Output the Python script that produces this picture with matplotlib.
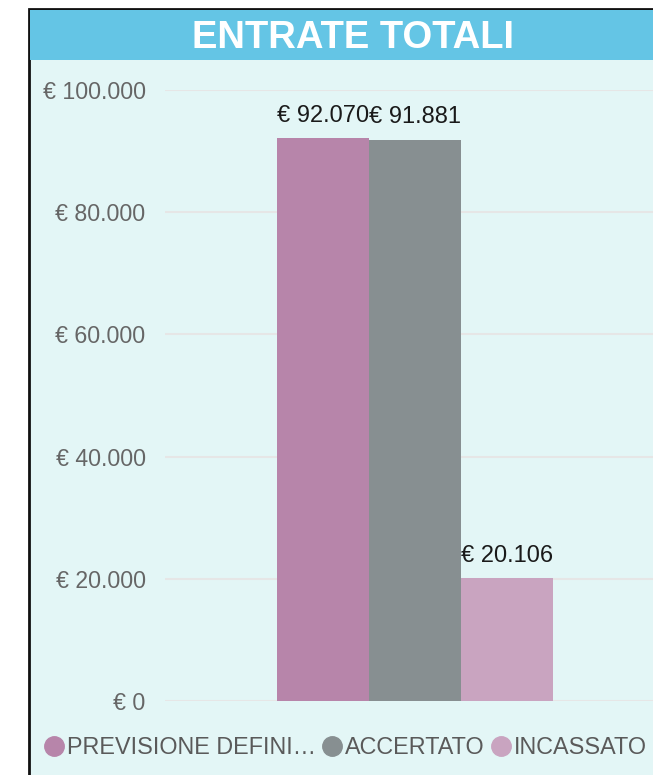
import matplotlib
matplotlib.use("Agg")
import matplotlib.pyplot as plt
from matplotlib.patches import Rectangle
from matplotlib.lines import Line2D
from matplotlib.ticker import FuncFormatter

plt.rcParams['font.family'] = ['Liberation Sans', 'DejaVu Sans']

title = "ENTRATE TOTALI"
series = ["PREVISIONE DEFINITIVA", "ACCERTATO", "INCASSATO"]
legend_labels = ["PREVISIONE DEFINI…", "ACCERTATO", "INCASSATO"]
values = [92070, 91881, 20106]
colors = ["#B785AA", "#878F91", "#C9A4C0"]
yticks = [0, 20000, 40000, 60000, 80000, 100000]

W, H = 653, 775
fig = plt.figure(figsize=(W / 100, H / 100), dpi=100)
fig.patch.set_facecolor("white")


def fx(px):
    return px / W


def fy(py):
    return 1 - py / H


# panel frame and title bar
fig.patches.append(Rectangle((fx(29), fy(790)), fx(700), fy(9) - fy(790),
                             transform=fig.transFigure, facecolor="#E3F6F6",
                             edgecolor="#111111", linewidth=2, zorder=-2))
fig.patches.append(Rectangle((fx(30), fy(60)), fx(700), fy(10) - fy(60),
                             transform=fig.transFigure, facecolor="#64C5E5",
                             edgecolor="none", zorder=-1))
fig.text(fx(353), fy(38), title, ha="center", va="center", color="white",
         fontsize=27.5, fontweight="bold", zorder=2)

# plot area
ax = fig.add_axes([fx(165), fy(701), fx(653) - fx(165), fy(90) - fy(701)])
ax.set_zorder(3)
ax.set_facecolor("none")
x = [-1, 0, 1]
bars = ax.bar(x, values, width=1.0, color=colors, zorder=3)
ax.set_xlim(-2.717, 2.587)
ax.set_ylim(0, 100000)
ax.set_yticks(yticks)
ax.yaxis.set_major_formatter(FuncFormatter(lambda v, p: "€ " + f"{int(v):,}".replace(",", ".")))
ax.tick_params(axis="y", length=0, pad=14, labelsize=16.7, labelcolor="#666666")
ax.set_xticks([])
for s in ax.spines.values():
    s.set_visible(False)
ax.grid(axis="y", color="#E6E6E6", linewidth=1.5, zorder=1)

for xi, v in zip(x, values):
    ax.annotate("€ " + f"{v:,}".replace(",", "."), (xi, v), xytext=(0, 8),
                textcoords="offset points", ha="center", va="bottom",
                fontsize=17, color="#1A1A1A", zorder=4)

handles = [Line2D([], [], marker="o", linestyle="none", markersize=14,
                  markerfacecolor=c, markeredgecolor=c) for c in colors]
leg = fig.legend(handles, legend_labels, loc="center left",
                 bbox_to_anchor=(fx(46), fy(748)), ncol=3, frameon=False,
                 fontsize=16.8, labelcolor="#5A5A5A", handlelength=0.7,
                 handletextpad=0.2, columnspacing=0.35, borderaxespad=0,
                 borderpad=0)
leg.set_zorder(4)

fig.savefig("out.png", dpi=100, facecolor="white")
